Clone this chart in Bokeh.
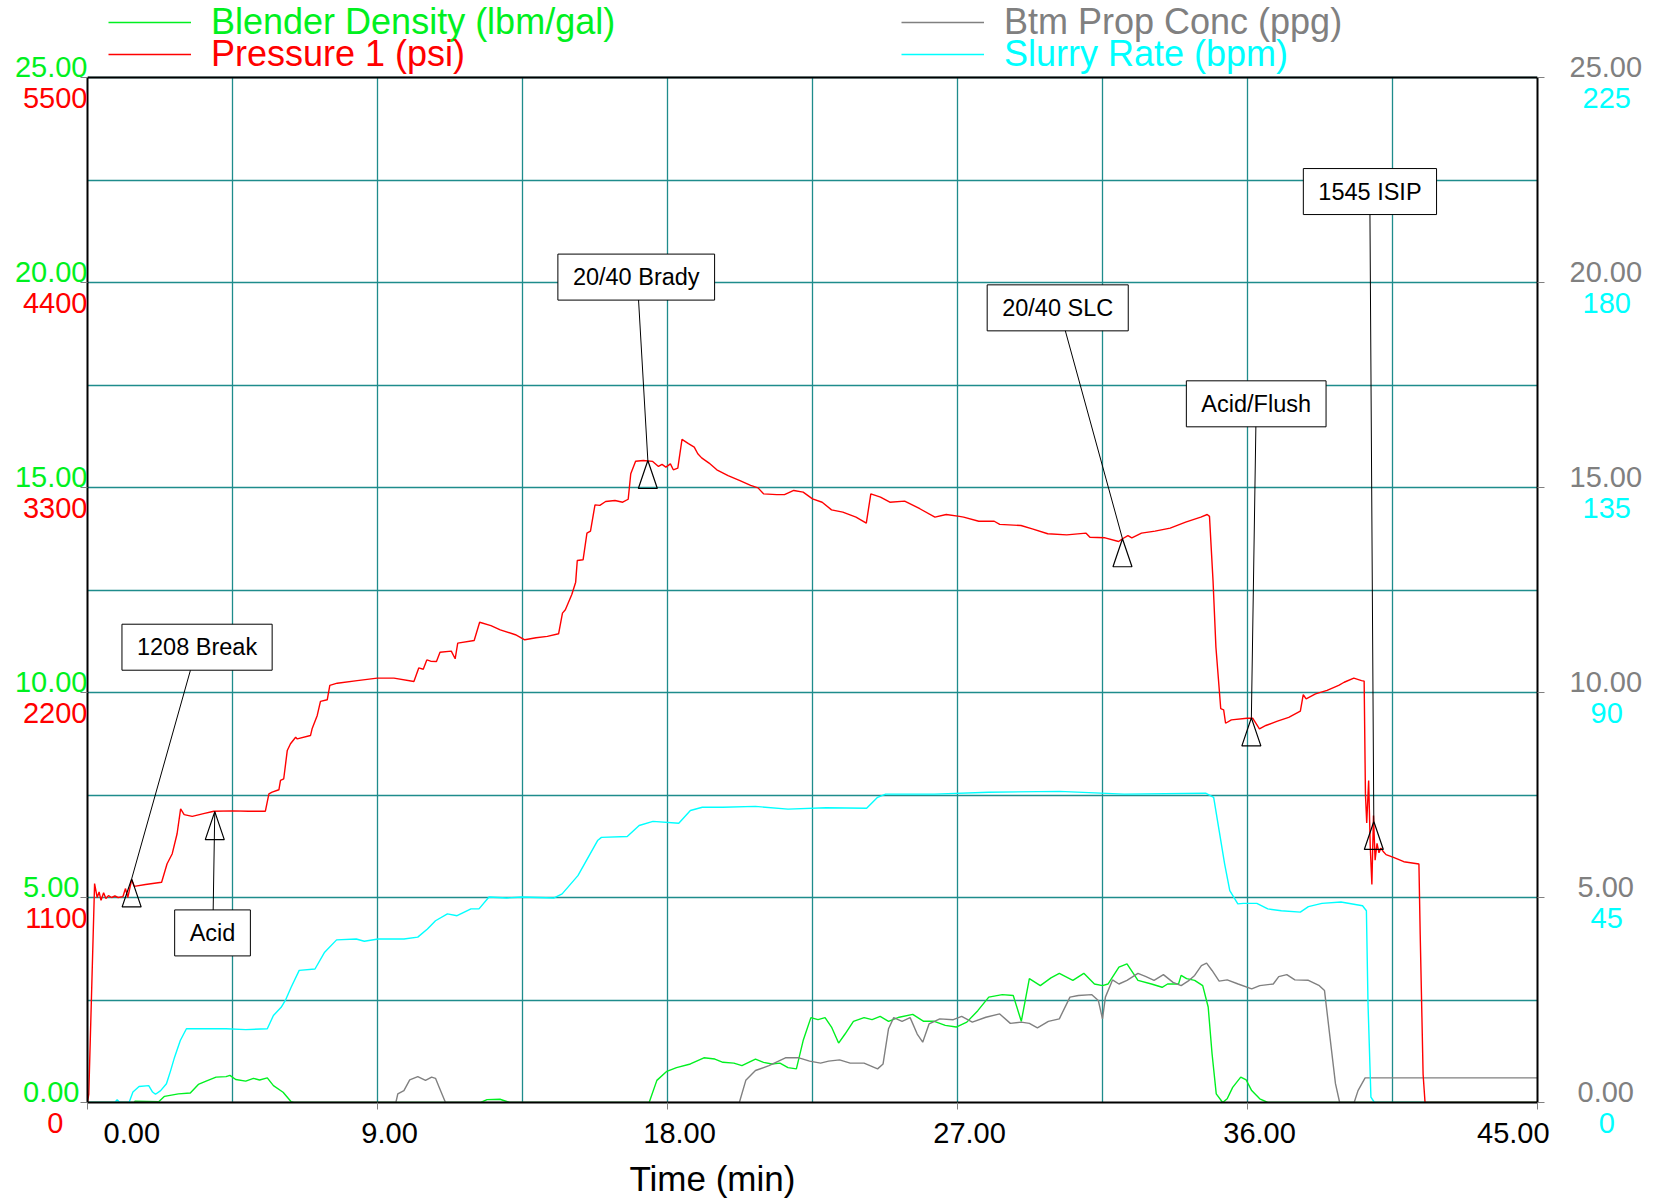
import numpy as np
from bokeh.plotting import figure
from bokeh.models import (Range1d, LinearAxis, FixedTicker, Label, Legend, LegendItem, Span, Title)
from bokeh.embed import file_html
from bokeh.resources import INLINE

# ---------------- data ----------------
pressure_t = [0.0, 0.04, 0.22, 0.30, 0.36, 0.42, 0.50, 0.57, 0.65, 0.75, 0.85, 0.95, 1.10, 1.18, 1.25,
              1.37, 1.45, 1.80, 2.30, 2.47, 2.63, 2.78, 2.89, 3.0, 3.25, 3.6, 3.92, 4.5, 5.0, 5.52,
              5.63, 5.73, 5.94, 5.99, 6.09, 6.20, 6.30, 6.46, 6.51, 6.92, 6.97, 7.13, 7.23, 7.44,
              7.52, 7.75, 8.37, 8.99, 9.51, 10.13, 10.28, 10.42, 10.53, 10.65, 10.83, 10.94, 11.29,
              11.41, 11.49, 12.0, 12.17, 12.52, 12.81, 13.28, 13.57, 13.92, 14.27, 14.62, 14.74,
              14.83, 15.03, 15.15, 15.20, 15.38, 15.50, 15.61, 15.75, 15.90, 16.08, 16.37, 16.61,
              16.78, 16.86, 17.01, 17.25, 17.54, 17.72, 17.83, 17.95, 18.09, 18.18, 18.32, 18.45,
              18.65, 18.83, 18.94, 19.06, 19.29, 19.53, 19.88, 20.23, 20.58, 20.81, 20.98, 21.39,
              21.63, 21.92, 22.21, 22.50, 22.80, 23.09, 23.44, 23.85, 24.17, 24.31, 24.61, 24.90,
              25.36, 25.83, 26.30, 26.65, 27.06, 27.19, 27.66, 28.14, 28.31, 28.97, 29.32, 29.80,
              30.39, 30.99, 31.11, 31.58, 32.0, 32.12, 32.29, 32.41, 32.71, 33.13, 33.60, 34.08,
              34.55, 34.75, 34.82, 34.93, 35.02, 35.17, 35.26, 35.32, 35.50, 35.98, 36.16, 36.37,
              36.57, 36.93, 37.28, 37.64, 37.73, 37.82, 38.11, 38.47, 38.83, 39.0, 39.30, 39.54,
              39.62, 39.66, 39.70, 39.76, 39.81, 39.86, 39.91, 39.96, 40.02, 40.08, 40.14, 40.22,
              40.30, 40.55, 40.85, 41.32, 41.36, 41.45, 41.51, 45.0]
pressure_psi = [0, 45, 1175, 1100, 1130, 1085, 1125, 1095, 1110, 1100, 1108, 1100, 1105, 1148, 1100,
                1195, 1160, 1170, 1182, 1281, 1335, 1442, 1576, 1545, 1535, 1550, 1563, 1565, 1563, 1563,
                1656, 1665, 1678, 1728, 1737, 1889, 1925, 1960, 1951, 1969, 2005, 2077, 2152, 2161,
                2238, 2250, 2264, 2277, 2277, 2259, 2332, 2325, 2375, 2368, 2366, 2416, 2422,
                2381, 2465, 2479, 2577, 2559, 2536, 2510, 2483, 2494, 2501, 2515, 2626,
                2644, 2726, 2792, 2908, 2912, 3055, 3066, 3207, 3204, 3225, 3230, 3221,
                3237, 3374, 3441, 3445, 3440, 3413, 3424, 3409, 3427, 3395, 3404, 3558,
                3535, 3517, 3481, 3459, 3431, 3395, 3364, 3338, 3311, 3298, 3266, 3262,
                3262, 3284, 3275, 3239, 3221, 3180, 3168, 3141, 3109, 3266, 3248, 3221,
                3227, 3186, 3141, 3155, 3145, 3141, 3119, 3119, 3102, 3096, 3078, 3052,
                3046, 3055, 3033, 3030, 3010, 3025, 3042, 3030, 3055, 3066, 3082, 3114,
                3141, 3155, 3145, 2801, 2443, 2113, 2107, 2035, 2053, 2062, 2062, 2005,
                2023, 2046, 2067, 2100, 2188, 2166, 2193, 2211, 2238, 2255, 2277, 2264,
                2261, 1656, 1500, 1728, 1370, 1170, 1540, 1300, 1391, 1340, 1365, 1345,
                1330, 1314, 1292, 1280, 900, 150, 0, 0]

density_t = [0.0, 1.45, 1.47, 2.21, 2.39, 2.82, 3.19, 3.44, 3.68, 3.99, 4.30, 4.42, 4.60, 4.91, 5.15,
             5.34, 5.58, 5.77, 6.07, 6.32, 6.40, 12.2, 12.4, 12.8, 13.1, 17.43, 17.67, 17.98, 18.28,
             18.71, 19.13, 19.47, 19.72, 20.06, 20.31, 20.73, 20.98, 21.24, 21.49, 21.74, 22.0,
             22.21, 22.45, 22.67, 22.89, 23.09, 23.31, 23.51, 23.77, 24.10, 24.35, 24.60, 24.86,
             25.19, 25.61, 25.95, 26.28, 26.62, 26.96, 27.29, 27.63, 27.97, 28.39, 28.73, 28.98,
             29.23, 29.57, 29.90, 30.16, 30.58, 30.92, 31.25, 31.50, 31.67, 32.01, 32.26, 32.60,
             33.02, 33.35, 33.52, 33.86, 33.94, 34.11, 34.36, 34.61, 34.78, 34.90, 35.03, 35.23,
             35.37, 35.54, 35.79, 35.96, 36.13, 36.38, 36.63, 45.0]
density_ppg = [0, 0, 0.03, 0.02, 0.15, 0.21, 0.23, 0.44, 0.52, 0.62, 0.63, 0.66, 0.56, 0.52, 0.59,
               0.55, 0.60, 0.41, 0.25, 0.02, 0, 0, 0.07, 0.08, 0, 0, 0.54, 0.76, 0.85,
               0.94, 1.09, 1.06, 0.98, 0.96, 0.90, 1.06, 0.98, 0.94, 0.96, 0.85, 0.82,
               1.51, 2.07, 2.02, 2.07, 1.84, 1.45, 1.67, 1.98, 2.07, 2.02, 2.10, 1.98,
               2.08, 2.15, 1.98, 1.98, 1.88, 1.84, 1.96, 2.24, 2.57, 2.63, 2.61, 1.98,
               3.02, 2.85, 3.04, 3.15, 2.98, 3.15, 2.89, 2.85, 2.89, 3.30, 3.38, 2.98,
               2.89, 2.81, 2.89, 2.89, 3.10, 3.02, 2.98, 2.85, 2.33, 1.19, 0.21, 0,
               0.09, 0.37, 0.62, 0.55, 0.29, 0.09, 0, 0]

prop_t = [0.0, 9.57, 9.63, 9.82, 10.0, 10.25, 10.49, 10.68, 10.80, 10.92, 11.11, 20.23, 20.43, 20.73,
          21.15, 21.66, 22.08, 22.41, 22.75, 23.0, 23.34, 23.67, 24.10, 24.52, 24.69, 24.86, 25.02,
          25.28, 25.53, 25.75, 25.92, 26.12, 26.45, 26.87, 27.13, 27.46, 27.88, 28.31, 28.64, 28.98,
          29.23, 29.48, 29.82, 30.16, 30.49, 30.75, 31.17, 31.37, 31.50, 31.59, 31.81, 32.01, 32.26,
          32.60, 32.85, 33.10, 33.39, 33.69, 33.94, 34.19, 34.36, 34.57, 34.73, 34.90, 35.12, 35.37,
          35.71, 36.13, 36.38, 36.80, 36.97, 37.22, 37.47, 37.89, 38.23, 38.39, 38.56, 38.73, 38.86,
          39.31, 39.43, 39.65, 45.0]
prop_ppg = [0, 0, 0.21, 0.29, 0.55, 0.63, 0.54, 0.62, 0.59, 0.36, 0, 0, 0.54, 0.78,
            0.90, 1.09, 1.09, 1.01, 0.96, 1.01, 1.04, 0.96, 0.96, 0.82, 0.94, 1.80, 2.07,
            1.98, 2.07, 1.67, 1.47, 1.92, 2.04, 2.02, 2.10, 1.96, 2.08, 2.16, 1.93, 1.96,
            1.93, 1.82, 1.98, 2.04, 2.57, 2.61, 2.63, 2.49, 2.04, 2.57, 2.99, 2.89, 2.98,
            3.15, 3.07, 2.98, 3.12, 2.93, 2.85, 2.98, 3.10, 3.34, 3.40, 3.22, 2.96, 2.99,
            2.89, 2.77, 2.85, 2.89, 3.07, 3.12, 2.99, 2.98, 2.85, 2.73, 1.59, 0.46, 0,
            0, 0.29, 0.60, 0.60]

rate_t = [0.0, 0.85, 0.92, 1.0, 1.29, 1.41, 1.60, 1.90, 2.02, 2.11, 2.27, 2.45, 2.58, 2.70, 2.88,
          3.07, 3.68, 4.30, 4.91, 5.58, 5.77, 6.01, 6.14, 6.32, 6.57, 7.06, 7.36, 7.73, 8.34, 8.59,
          9.02, 9.82, 10.25, 10.55, 10.80, 11.17, 11.47, 11.90, 12.15, 12.46, 13.01, 13.50, 14.48,
          14.73, 15.22, 15.83, 15.95, 16.75, 17.12, 17.55, 18.35, 18.71, 19.08, 19.72, 20.73,
          21.74, 22.92, 24.18, 24.52, 24.77, 26.28, 27.97, 30.16, 32.17, 34.70, 34.95, 35.12,
          35.29, 35.45, 35.70, 35.87, 36.29, 36.63, 37.05, 37.64, 37.89, 38.31, 38.90, 39.57,
          39.69, 39.74, 39.83, 39.94, 45.0]
rate_bpm = [0, 0, 0.6, 0, 0, 2.3, 3.5, 3.7, 2.3, 1.8, 2.6, 4.1, 7.0, 9.9, 13.6,
            16.2, 16.2, 16.2, 16.0, 16.2, 19.1, 20.9, 22.4, 25.3, 29.0, 29.3, 33.0, 35.7, 35.9, 35.4,
            35.9, 35.9, 36.3, 38.1, 39.9, 41.4, 41.0, 42.5, 42.5, 45.1, 44.9, 45.1, 44.9,
            45.8, 49.8, 57.5, 58.2, 58.4, 60.8, 61.7, 61.3, 64.1, 64.8, 64.8, 65.0,
            64.4, 64.7, 64.6, 67.0, 67.7, 67.7, 68.1, 68.3, 67.7, 67.9, 67.0, 59.7,
            52.4, 46.5, 43.6, 43.7, 43.7, 42.5, 42.1, 41.8, 43.0, 43.7, 44.0, 43.2,
            42.1, 21.7, 1.2, 0, 0]

# event callouts on the pressure trace
callout_labels = ["1208 Break", "Acid", "20/40 Brady", "20/40 SLC", "Acid/Flush", "1545 ISIP"]
callout_t = [1.37, 3.95, 17.39, 32.12, 36.12, 39.92]
callout_psi = [1200, 1561, 3445, 3025, 2064, 1508]

# axis tick values / labels
x_tick_vals = [0, 9, 18, 27, 36, 45]
x_tick_labels = ["0.00", "9.00", "18.00", "27.00", "36.00", "45.00"]
ppg_tick_vals = [0, 5, 10, 15, 20, 25]
ppg_tick_labels = ["0.00", "5.00", "10.00", "15.00", "20.00", "25.00"]
psi_tick_vals = [0, 1100, 2200, 3300, 4400, 5500]
psi_tick_labels = ["0", "1100", "2200", "3300", "4400", "5500"]
bpm_tick_vals = [0, 45, 90, 135, 180, 225]
bpm_tick_labels = ["0", "45", "90", "135", "180", "225"]

# ---------------- layout / style ----------------
FONT = "Liberation Sans"
GREEN = "#00F020"
RED = "#FF0000"
GRAY = "#808080"
CYAN = "#00FFFF"
GRIDC = "#1E8C8C"
X_MAX, Y_MAX, PSI_MAX, RATE_MAX = 45, 25, 5500, 225
CHART_W, CHART_H = 1450, 1025          # plotting box in px
LEGEND_H = 77                          # strip above the box that holds the legend
BL, BR, BB = 87, 119, 99
FRAME_H = CHART_H + LEGEND_H
K = FRAME_H / CHART_H                  # frame extends above the top of the box

# whitespace used to centre tick labels like the original software does
FIG, PUN = "\u2007", "\u2008"          # figure space (digit width), punctuation space (half)
x_pad = [(FIG * 5 + PUN, ""), (FIG + PUN, ""), (FIG + PUN, ""), (FIG + PUN, ""), (FIG + PUN, ""),
         ("", FIG * 3)]
ppg_left_pad = [PUN, PUN, "", "", "", ""]
psi_left_pad = [FIG + PUN, "", "", "", "", ""]
bpm_right_pad = [FIG, PUN, PUN, "", "", ""]

# callout box centres and leader start points (layout, in time / psi units)
box_pos_t = [3.40, 3.88, 17.03, 30.11, 36.27, 39.80]
box_pos_psi = [2443, 910, 4429, 4264, 3749, 4888]
lead_t = [3.20, 3.90, 17.10, 30.34, 36.26, 39.80]
lead_psi = [2323, 1030, 4310, 4145, 3630, 4770]

p = figure(width=BL + CHART_W + BR, height=FRAME_H + BB,
           x_range=Range1d(0, X_MAX), y_range=Range1d(0, Y_MAX * K),
           output_backend="svg", toolbar_location=None,
           min_border_left=BL, min_border_right=BR, min_border_top=0, min_border_bottom=BB)
p.extra_y_ranges = {"psi": Range1d(0, PSI_MAX * K), "rate": Range1d(0, RATE_MAX * K)}
p.outline_line_color = None
p.background_fill_color = "white"
p.border_fill_color = "white"


def style_axis(ax, vals, labels, color, tick_out, standoff, line_height=1.2, box_edge=False):
    ax.ticker = FixedTicker(ticks=vals, minor_ticks=[])
    ax.major_label_overrides = dict(zip(vals, labels))
    ax.major_label_text_color = color
    ax.major_label_text_font = FONT
    ax.major_label_text_font_size = "29px"
    ax.major_label_text_line_height = line_height
    ax.major_label_standoff = standoff
    ax.major_tick_out = tick_out
    ax.major_tick_in = 0
    ax.minor_tick_out = 0
    ax.minor_tick_in = 0
    ax.major_tick_line_color = GRAY if tick_out else None
    if box_edge:
        ax.axis_line_color = "black"
        ax.axis_line_width = 2
    else:
        ax.axis_line_color = None


# bottom axis
ax_x = p.xaxis[0]
style_axis(ax_x, x_tick_vals, [a + t + b for t, (a, b) in zip(x_tick_labels, x_pad)],
           "black", 7, 7, box_edge=True)

# left: pressure (inner, labels below tick) + blender density (outer, labels above tick)
ax_psi = p.yaxis[0]
ax_psi.y_range_name = "psi"
ax_psi.bounds = (0, PSI_MAX)
style_axis(ax_psi, psi_tick_vals, [" \n" + t + s for t, s in zip(psi_tick_labels, psi_left_pad)],
           RED, 7, -7, line_height=1.28, box_edge=True)
ax_dens = LinearAxis(bounds=(0, Y_MAX))
style_axis(ax_dens, ppg_tick_vals, [t + s + "\n " for t, s in zip(ppg_tick_labels, ppg_left_pad)],
           GREEN, 0, -68, line_height=0.68)
p.add_layout(ax_dens, "left")

# right: slurry rate (inner, labels below tick) + btm prop conc (outer, labels above tick)
ax_rate = LinearAxis(y_range_name="rate", bounds=(0, RATE_MAX))
style_axis(ax_rate, bpm_tick_vals, [" \n" + s + t for t, s in zip(bpm_tick_labels, bpm_right_pad)],
           CYAN, 7, 38, line_height=1.28, box_edge=True)
p.add_layout(ax_rate, "right")
ax_prop = LinearAxis(bounds=(0, Y_MAX))
style_axis(ax_prop, ppg_tick_vals, [s + t + "\n " for t, s in zip(ppg_tick_labels, ppg_left_pad)],
           GRAY, 0, -64, line_height=0.68)
p.add_layout(ax_prop, "right")

p.add_layout(Title(text="\nTime (min)", align="left", offset=542, text_font=FONT,
                   text_font_size="35px", text_font_style="normal", text_color="black",
                   text_line_height=0.2, vertical_align="top", standoff=0), "below")

# grid inside the box
p.xgrid.visible = False
p.ygrid.ticker = FixedTicker(ticks=list(np.arange(0, Y_MAX + 0.01, 2.5)))
p.ygrid.grid_line_color = GRIDC
p.ygrid.grid_line_width = 1.3
vgrid = list(np.arange(4.5, X_MAX, 4.5))
p.segment(x0=vgrid, y0=[0] * len(vgrid), x1=vgrid, y1=[Y_MAX] * len(vgrid),
          line_color=GRIDC, line_width=1.3, level="underlay")
p.add_layout(Span(location=Y_MAX, dimension="width", line_color="black", line_width=2))

r_green = p.line(density_t, density_ppg, line_color=GREEN, line_width=1.4)
r_gray = p.line(prop_t, prop_ppg, line_color=GRAY, line_width=1.4)
r_cyan = p.line(rate_t, rate_bpm, line_color=CYAN, line_width=1.4, y_range_name="rate")
r_red = p.line(pressure_t, pressure_psi, line_color=RED, line_width=1.4, y_range_name="psi")

# callouts: leader, open triangle, boxed label
px_per_min = CHART_W / X_MAX
px_per_psi = CHART_H / PSI_MAX
tri_hw = 9.5 / px_per_min
tri_h = 28 / px_per_psi
p.segment(x0=lead_t, y0=lead_psi, x1=callout_t, y1=callout_psi,
          line_color="black", line_width=1, y_range_name="psi")
p.patches([[t - tri_hw, t, t + tri_hw] for t in callout_t],
          [[v - tri_h, v, v - tri_h] for v in callout_psi],
          fill_alpha=0, line_color="black", line_width=1.2, y_range_name="psi")
for lab, bx, by in zip(callout_labels, box_pos_t, box_pos_psi):
    p.add_layout(Label(x=bx, y=by, y_range_name="psi", text=lab, text_align="center",
                       text_baseline="middle", text_font=FONT, text_font_size="23.5px",
                       text_color="black", background_fill_color="white",
                       border_line_color="black", border_line_width=1, padding=(15, 10)))


# legends (in the strip above the box)
def add_legend(r, label, color, x, y):
    leg = Legend(items=[LegendItem(label=label, renderers=[r])], location=(x, y),
                 orientation="vertical", padding=0, margin=0, spacing=0,
                 glyph_width=83, glyph_height=42, label_height=42, label_standoff=20,
                 label_text_font=FONT, label_text_font_size="36px", label_text_color=color,
                 border_line_color=None, background_fill_alpha=0)
    p.add_layout(leg)


add_legend(r_green, "Blender Density (lbm/gal)", GREEN, 21, 1059)
add_legend(r_red, "Pressure 1 (psi)", RED, 21, 1027)
add_legend(r_gray, "Btm Prop Conc (ppg)", GRAY, 814, 1059)
add_legend(r_cyan, "Slurry Rate (bpm)", CYAN, 814, 1027)

open("out.html", "w").write(file_html(p, INLINE))
